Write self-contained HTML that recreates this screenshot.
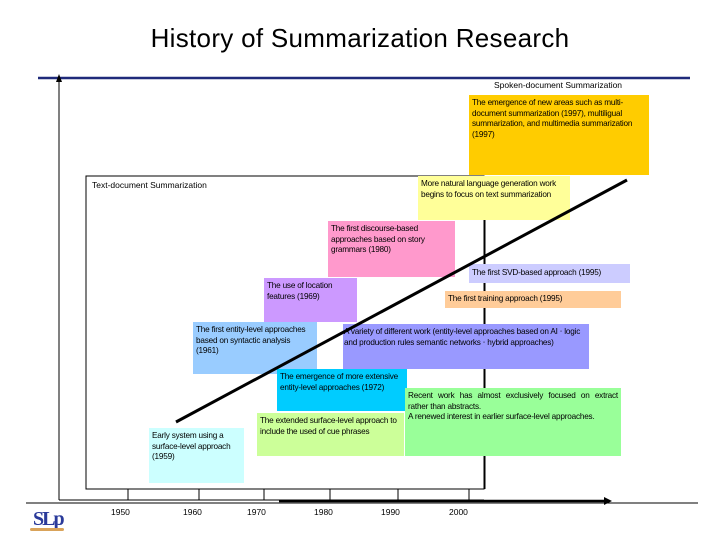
<!DOCTYPE html>
<html><head><meta charset="utf-8"><style>
body{margin:0;background:#fff;}
#c{position:relative;width:720px;height:540px;overflow:hidden;font-family:"Liberation Sans",sans-serif;}
.b{position:absolute;font-size:8.2px;line-height:10.5px;padding:3px 3px;box-sizing:border-box;color:#000;letter-spacing:-0.2px;}
.t{position:absolute;font-size:8.5px;}
</style></head><body>
<div id="c">
<div style="position:absolute;left:0;width:720px;top:23px;text-align:center;font-size:26px;letter-spacing:0.3px">History of Summarization Research</div>
<svg width="720" height="540" style="position:absolute;left:0;top:0">
<line x1="38" y1="78" x2="690" y2="78" stroke="#1f2a7a" stroke-width="2.5"/>
<line x1="59" y1="80" x2="59" y2="500" stroke="#000" stroke-width="1"/>
<polygon points="56,82 59,74 62,82" fill="#000"/>
<line x1="59" y1="500" x2="484" y2="500" stroke="#000"/>
<line x1="26" y1="503" x2="698" y2="503" stroke="#000"/>
<rect x="86" y="176" width="398" height="313" fill="none" stroke="#000"/>
<line x1="485" y1="220" x2="485" y2="489" stroke="#000"/>
<line x1="279" y1="501" x2="606" y2="501" stroke="#000" stroke-width="2.5"/>
<polygon points="604,497 612,501 604,505" fill="#000"/>
<g stroke="#000"><line x1="128" y1="489" x2="128" y2="500"/><line x1="199" y1="489" x2="199" y2="500"/><line x1="264" y1="489" x2="264" y2="500"/><line x1="330" y1="489" x2="330" y2="500"/><line x1="398" y1="489" x2="398" y2="500"/><line x1="469" y1="489" x2="469" y2="500"/></g>
</svg>
<div class="t" style="left:92px;top:180px">Text-document Summarization</div>
<div class="t" style="left:494px;top:80px">Spoken-document Summarization</div>
<div class="b" style="left:469px;top:95px;width:180px;height:80px;background:#ffcc00">The emergence of new areas such as multi-document summarization (1997), multiligual summarization, and multimedia summarization (1997)</div>
<div class="b" style="left:418px;top:176px;width:152px;height:44px;background:#ffff99">More natural language generation work begins to focus on text summarization</div>
<div class="b" style="left:328px;top:221px;width:127px;height:56px;background:#ff99cc;padding-right:20px">The first discourse-based approaches based on story grammars (1980)</div>
<div class="b" style="left:469px;top:264px;width:161px;height:19px;background:#ccccff;padding-top:4px">The first SVD-based approach (1995)</div>
<div class="b" style="left:264px;top:278px;width:93px;height:44px;background:#cc99ff">The use of location features (1969)</div>
<div class="b" style="left:445px;top:291px;width:176px;height:17px;background:#ffcc99">The first training approach (1995)</div>
<div class="b" style="left:193px;top:322px;width:124px;height:52px;background:#99ccff">The first entity-level approaches based on syntactic analysis (1961)</div>
<div class="b" style="left:343px;top:324px;width:246px;height:45px;background:#9999ff;padding-left:1px;padding-right:1px">A variety of different work (entity-level approaches based on AI ‧ logic and production rules semantic networks ‧ hybrid approaches)</div>
<div class="b" style="left:277px;top:369px;width:130px;height:42px;background:#00ccff;padding-right:1px">The emergence of more extensive entity-level approaches (1972)</div>
<div class="b" style="left:257px;top:413px;width:147px;height:43px;background:#ccff99">The extended surface-level approach to include the used of cue phrases</div>
<div class="b" style="left:405px;top:388px;width:216px;height:68px;background:#99ff99;text-align:justify">Recent work has almost exclusively focused on extract rather than abstracts.<br>A renewed interest in earlier surface-level approaches.</div>
<div class="b" style="left:149px;top:428px;width:95px;height:55px;background:#ccffff">Early system using a surface-level approach (1959)</div>
<svg width="720" height="540" style="position:absolute;left:0;top:0">
<line x1="176" y1="422" x2="627" y2="180" stroke="#000" stroke-width="3"/>
</svg>
<div class="t" style="left:111px;top:507px">1950</div>
<div class="t" style="left:183px;top:507px">1960</div>
<div class="t" style="left:247px;top:507px">1970</div>
<div class="t" style="left:314px;top:507px">1980</div>
<div class="t" style="left:381px;top:507px">1990</div>
<div class="t" style="left:449px;top:507px">2000</div>
<div style="position:absolute;left:33px;top:508px;font-family:'Liberation Serif',serif;font-size:20px;color:#2a3a9a;font-weight:bold;letter-spacing:-2px">SLp</div>
<div style="position:absolute;left:30px;top:528px;width:34px;height:3px;background:#d9a35a;border-radius:2px"></div>
</div>
</body></html>
